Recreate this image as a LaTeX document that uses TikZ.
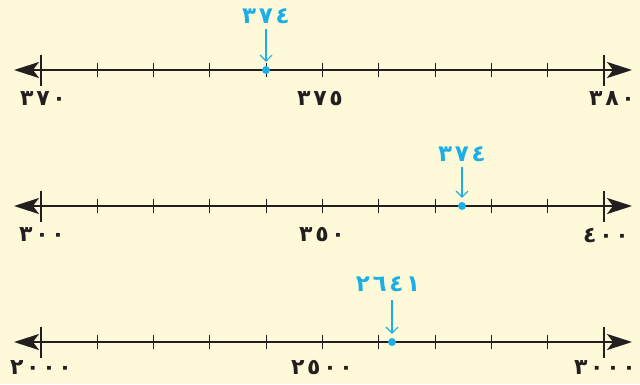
\documentclass[tikz,border=0pt]{standalone}
\usepackage{fontspec}
\newfontfamily\ar{DejaVu Sans}[LetterSpace=12]
\usetikzlibrary{arrows.meta}
\definecolor{bg}{HTML}{FEF9D8}
\definecolor{ink}{HTML}{231F20}
\definecolor{mk}{HTML}{1CAEE6}
\tikzset{
 axis/.style={ink, line width=2.2pt, {Stealth[length=25pt,width=16pt,inset=6pt]}-{Stealth[length=25pt,width=16pt,inset=6pt]}},
 smalltick/.style={ink, line width=1.1pt},
 endtick/.style={ink, line width=1.3pt},
 lab/.style={font=\ar\bfseries\fontsize{22}{24}\selectfont, text=ink, inner sep=0pt},
 blab/.style={font=\ar\bfseries\fontsize{23}{25}\selectfont, text=mk, inner sep=0pt},
 dot/.style={circle, fill=mk, minimum size=8pt, inner sep=0pt},
 pointer/.style={mk, line width=1.1pt, shorten >=4pt, -{Straight Barb[length=6pt,width=12pt]}}
}
\begin{document}
\begin{tikzpicture}[x=1pt,y=-1pt]
\fill[bg] (0,0) rectangle (640,384);
\useasboundingbox (0,0) rectangle (640,384);
% line 1
\coordinate (a1) at (14,70);
\coordinate (b1) at (632,70);
\draw[axis] (a1) -- (b1);
\foreach \i in {1,...,9} \draw[smalltick] ({41+\i*56.3},63) -- ({41+\i*56.3},77);
\draw[endtick] (41,55) -- (41,86);
\draw[endtick] (604,55) -- (604,86);
\node[lab] (l1a) at (43,99) {٣٧٠};
\node[lab] (l1m) at (320,99) {٣٧٥};
\node[lab] (l1b) at (612,99) {٣٨٠};
\node[dot] (d1) at (266,70) {};
\node[blab] (t1) at (266,16) {٣٧٤};
\draw[pointer] (266,29) -- (d1.north);
% line 2
\coordinate (a2) at (14,206);
\coordinate (b2) at (632,206);
\draw[axis] (a2) -- (b2);
\foreach \i in {1,...,9} \draw[smalltick] ({41+\i*56.3},199) -- ({41+\i*56.3},213);
\draw[endtick] (41,191) -- (41,222);
\draw[endtick] (604,191) -- (604,222);
\node[lab] (l2a) at (42,235) {٣٠٠};
\node[lab] (l2m) at (322,235) {٣٥٠};
\node[lab] (l2b) at (606,235) {٤٠٠};
\node[dot] (d2) at (462,206) {};
\node[blab] (t2) at (462,154) {٣٧٤};
\draw[pointer] (462,167) -- (d2.north);
% line 3
\coordinate (a3) at (14,342);
\coordinate (b3) at (632,342);
\draw[axis] (a3) -- (b3);
\foreach \i in {1,...,9} \draw[smalltick] ({41+\i*56.3},335) -- ({41+\i*56.3},349);
\draw[endtick] (41,327) -- (41,358);
\draw[endtick] (604,327) -- (604,358);
\node[lab] (l3a) at (41,368) {٢٠٠٠};
\node[lab] (l3m) at (322,368) {٢٥٠٠};
\node[lab] (l3b) at (605,368) {٣٠٠٠};
\node[dot] (d3) at (392,342) {};
\node[blab] (t3) at (388,284) {٢٦٤١};
\draw[pointer] (392,300) -- (d3.north);
\end{tikzpicture}
\end{document}
